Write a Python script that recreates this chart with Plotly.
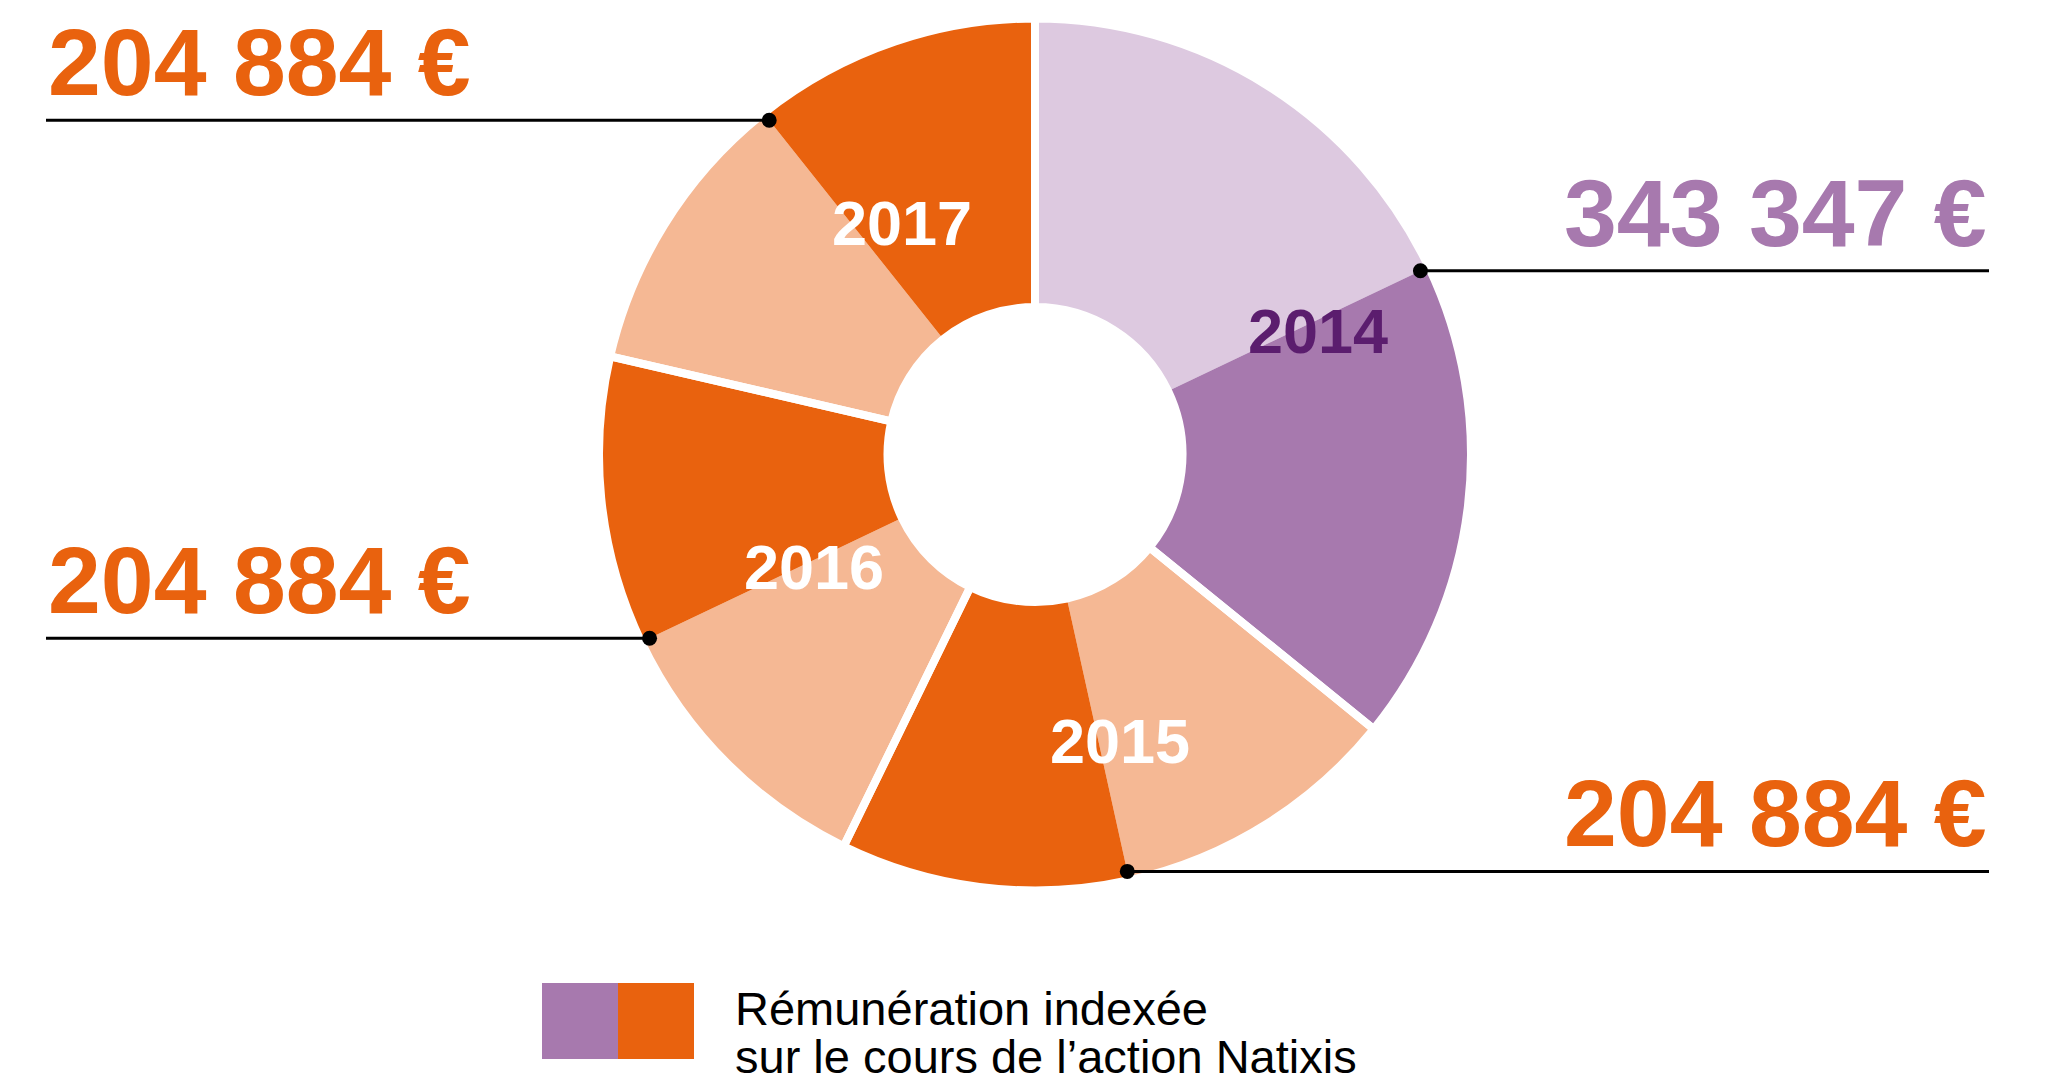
import math
import plotly.graph_objects as go

# ---------------- data ----------------
years = ["2014", "2015", "2016", "2017"]
amounts = [343347, 204884, 204884, 204884]
# each year's ring segment is drawn in two halves (light, then dark)
part_light = [171673.5, 102442, 102442, 102442]
part_dark = [171673.5, 102442, 102442, 102442]
legend_lines = ["Rémunération indexée", "sur le cours de l’action Natixis"]

# ---------------- style ----------------
PAGE_W, PAGE_H = 2049, 1080
OFF = 8                        # default page body margin
W, H = PAGE_W - OFF, PAGE_H - OFF
ORANGE = "#E9620E"
ORANGE_L = "#F5B894"
PURPLE = "#A779AE"
PURPLE_L = "#DDC9E0"
PURPLE_TXT = "#5B1D6E"
FONT = "Liberation Sans, Arial, sans-serif"

light_colors = [PURPLE_L, ORANGE_L, ORANGE_L, ORANGE_L]
dark_colors = [PURPLE, ORANGE, ORANGE, ORANGE]
year_text_colors = [PURPLE_TXT, "white", "white", "white"]
value_colors = [PURPLE, ORANGE, ORANGE, ORANGE]
callout_side = ["right", "right", "left", "left"]

CX, CY = 1035, 454.5          # donut centre (page px)
SEP = 8                        # white separator width (px)
R_OUT = 432 + SEP / 2          # plotly radius incl. half stroke
R_IN = 151.5 - SEP / 2
HOLE = R_IN / R_OUT

def px(x):
    return (x - OFF) / W

def py(y):
    return 1 - (y - OFF) / H

domain = dict(x=[px(CX - R_OUT), px(CX + R_OUT)],
              y=[py(CY + R_OUT), py(CY - R_OUT)])

slice_vals, slice_cols, slice_names = [], [], []
for y, a, b, cl, cd in zip(years, part_light, part_dark, light_colors, dark_colors):
    slice_vals += [a, b]
    slice_cols += [cl, cd]
    slice_names += [y + " a", y + " b"]

fig = go.Figure()
fig.add_trace(go.Pie(
    values=slice_vals, labels=slice_names, sort=False, direction="clockwise",
    rotation=0, hole=HOLE, domain=domain, textinfo="none",
    marker=dict(colors=slice_cols, line=dict(width=0)),
    showlegend=False, hoverinfo="skip"))
fig.add_trace(go.Pie(
    values=amounts, labels=years, sort=False, direction="clockwise",
    rotation=0, hole=HOLE, domain=domain, textinfo="none",
    marker=dict(colors=["rgba(0,0,0,0)"] * 4, line=dict(color="white", width=SEP)),
    showlegend=False, hoverinfo="label+value"))

shapes, annotations = [], []

# year labels (placed in the ring)
label_pos = [(1318, 331.5), (1120, 740.5), (814, 567.5), (902, 222.5)]
for y, (lx, ly), c in zip(years, label_pos, year_text_colors):
    annotations.append(dict(x=px(lx), y=py(ly), xref="paper", yref="paper",
                            text=f"<b>{y}</b>", showarrow=False,
                            xanchor="center", yanchor="middle",
                            font=dict(family=FONT, size=63, color=c)))

# callouts: dot on the ring at each year's mid-angle, line out to the side
total = sum(amounts)
cum = 0
DOT_R = 427
LEFT_X, RIGHT_X = 46, 1989
for y, a, side, col in zip(years, amounts, callout_side, value_colors):
    mid = (cum + a / 2) / total * 2 * math.pi
    cum += a
    dx = CX + DOT_R * math.sin(mid)
    dy = CY - DOT_R * math.cos(mid)
    x_end = LEFT_X if side == "left" else RIGHT_X
    shapes.append(dict(type="line", xref="paper", yref="paper",
                       x0=px(dx), x1=px(x_end), y0=py(dy), y1=py(dy),
                       line=dict(color="black", width=3)))
    shapes.append(dict(type="circle", xref="paper", yref="paper",
                       x0=px(dx - 7.5), x1=px(dx + 7.5),
                       y0=py(dy + 7.5), y1=py(dy - 7.5),
                       fillcolor="black", line=dict(width=0)))
    txt = f"{a:,}".replace(",", " ") + " €"
    annotations.append(dict(x=px(x_end), y=py(dy - 58), xref="paper", yref="paper",
                            text=f"<b>{txt}</b>", showarrow=False,
                            xanchor="left" if side == "left" else "right",
                            yanchor="middle",
                            font=dict(family=FONT, size=95, color=col)))

# legend
shapes.append(dict(type="rect", xref="paper", yref="paper",
                   x0=px(542), x1=px(618), y0=py(1059), y1=py(983),
                   fillcolor=PURPLE, line=dict(width=0)))
shapes.append(dict(type="rect", xref="paper", yref="paper",
                   x0=px(618), x1=px(694), y0=py(1059), y1=py(983),
                   fillcolor=ORANGE, line=dict(width=0)))
for i, line in enumerate(legend_lines):
    annotations.append(dict(x=px(733), y=py(1008 + 48 * i), xref="paper", yref="paper",
                            text=line, showarrow=False, xanchor="left", yanchor="middle",
                            font=dict(family=FONT, size=47, color="black")))

fig.update_layout(width=W, height=H, margin=dict(l=0, r=0, t=0, b=0),
                  paper_bgcolor="white", plot_bgcolor="white",
                  shapes=shapes, annotations=annotations, showlegend=False)

fig.write_html("out.html")
